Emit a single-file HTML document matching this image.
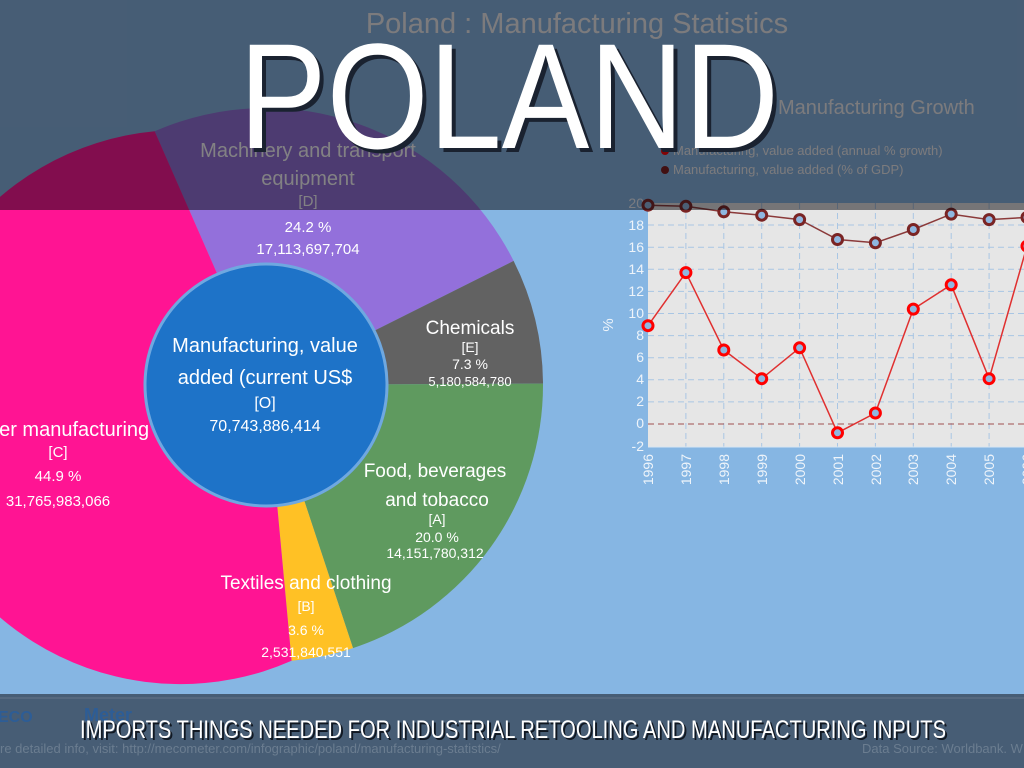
<!DOCTYPE html>
<html><head><meta charset="utf-8"><style>html,body{margin:0;padding:0;background:#86b6e3;}svg{display:block}</style></head>
<body>
<svg width="1024" height="768" viewBox="0 0 1024 768" xmlns="http://www.w3.org/2000/svg" font-family="Liberation Sans, DejaVu Sans, sans-serif">
<rect width="1024" height="768" fill="#86b6e3"/>
<text x="577" y="33" font-size="29" fill="#f2f2f2" text-anchor="middle">Poland : Manufacturing Statistics</text>
<!-- donut -->
<path d="M266,385 L154.7,131.3 A277,277 0 0 1 513.6,260.9 Z" fill="#9370db"/>
<path d="M266,385 L513.6,260.9 A277,277 0 0 1 543,383.6 Z" fill="#626262"/>
<path d="M266,385 L543,383.6 A277,277 0 0 1 353,648.1 Z" fill="#5f9a5f"/>
<path d="M266,385 L353,648.1 A277,277 0 0 1 291.6,660.8 Z" fill="#ffc125"/>
<path d="M266,385 L291.6,660.8 A277,277 0 1 1 154.7,131.3 Z" fill="#ff1493"/>
<circle cx="266" cy="385" r="121" fill="#1e73c8" stroke="#6fa8e0" stroke-width="3"/>
<g fill="#fff" text-anchor="middle">
<text x="308" y="157" font-size="20">Machinery and transport</text>
<text x="308" y="185" font-size="20">equipment</text>
<text x="308" y="206" font-size="15">[D]</text>
<text x="308" y="232" font-size="15">24.2 %</text>
<text x="308" y="254" font-size="15">17,113,697,704</text>
<text x="470" y="334" font-size="19">Chemicals</text>
<text x="470" y="352" font-size="14">[E]</text>
<text x="470" y="369" font-size="14">7.3 %</text>
<text x="470" y="386" font-size="13">5,180,584,780</text>
<text x="265" y="352" font-size="20">Manufacturing, value</text>
<text x="265" y="384" font-size="20">added (current US$</text>
<text x="265" y="408" font-size="16">[O]</text>
<text x="265" y="431" font-size="16">70,743,886,414</text>
<text x="58" y="436" font-size="20">Other manufacturing</text>
<text x="58" y="457" font-size="15">[C]</text>
<text x="58" y="481" font-size="15">44.9 %</text>
<text x="58" y="506" font-size="15">31,765,983,066</text>
<text x="435" y="477" font-size="19">Food, beverages</text>
<text x="437" y="506" font-size="19">and tobacco</text>
<text x="437" y="524" font-size="14">[A]</text>
<text x="437" y="542" font-size="14">20.0 %</text>
<text x="435" y="558" font-size="14">14,151,780,312</text>
<text x="306" y="589" font-size="19">Textiles and clothing</text>
<text x="306" y="611" font-size="14">[B]</text>
<text x="306" y="635" font-size="14">3.6 %</text>
<text x="306" y="657" font-size="14">2,531,840,551</text>
</g>
<!-- legend -->
<text x="778" y="114" font-size="20" fill="#f2f2f2">Manufacturing Growth</text>
<circle cx="665" cy="151" r="4" fill="#ff0000"/>
<text x="673" y="155" font-size="13" fill="#f2f2f2">Manufacturing, value added (annual % growth)</text>
<circle cx="665" cy="170" r="4" fill="#7a1a1a"/>
<text x="673" y="174" font-size="13" fill="#f2f2f2">Manufacturing, value added (% of GDP)</text>
<!-- line chart -->
<rect x="648" y="203" width="380" height="244" fill="#e6e6e6"/>
<g stroke="#a9c6e4" stroke-width="1" stroke-dasharray="6,4">
<line x1="648" x2="1024" y1="225" y2="225"/><line x1="648" x2="1024" y1="247.2" y2="247.2"/><line x1="648" x2="1024" y1="269.3" y2="269.3"/><line x1="648" x2="1024" y1="291.4" y2="291.4"/><line x1="648" x2="1024" y1="313.5" y2="313.5"/><line x1="648" x2="1024" y1="335.6" y2="335.6"/><line x1="648" x2="1024" y1="357.7" y2="357.7"/><line x1="648" x2="1024" y1="379.8" y2="379.8"/><line x1="648" x2="1024" y1="401.9" y2="401.9"/>
<line y1="203" y2="447" x1="685.9" x2="685.9"/><line y1="203" y2="447" x1="723.8" x2="723.8"/><line y1="203" y2="447" x1="761.7" x2="761.7"/><line y1="203" y2="447" x1="799.6" x2="799.6"/><line y1="203" y2="447" x1="837.5" x2="837.5"/><line y1="203" y2="447" x1="875.4" x2="875.4"/><line y1="203" y2="447" x1="913.3" x2="913.3"/><line y1="203" y2="447" x1="951.2" x2="951.2"/><line y1="203" y2="447" x1="989.1" x2="989.1"/>
</g>
<line x1="648" x2="1024" y1="424" y2="424" stroke="#a05050" stroke-width="1" stroke-dasharray="6,4"/>
<line x1="648" x2="1024" y1="447" y2="447" stroke="#d8e6f3" stroke-width="1"/>
<g fill="#eef4fa" font-size="14" text-anchor="end">
<text x="644" y="208">20</text><text x="644" y="230">18</text><text x="644" y="252">16</text><text x="644" y="274">14</text><text x="644" y="296">12</text><text x="644" y="318">10</text><text x="644" y="340">8</text><text x="644" y="362">6</text><text x="644" y="384">4</text><text x="644" y="406">2</text><text x="644" y="428">0</text><text x="644" y="451">-2</text>
</g>
<text transform="translate(613,325) rotate(-90)" font-size="15" fill="#eef4fa" text-anchor="middle">%</text>
<g fill="#eef4fa" font-size="14" text-anchor="end">
<text transform="translate(653,454) rotate(-90)">1996</text><text transform="translate(691,454) rotate(-90)">1997</text><text transform="translate(729,454) rotate(-90)">1998</text><text transform="translate(767,454) rotate(-90)">1999</text><text transform="translate(805,454) rotate(-90)">2000</text><text transform="translate(843,454) rotate(-90)">2001</text><text transform="translate(881,454) rotate(-90)">2002</text><text transform="translate(918,454) rotate(-90)">2003</text><text transform="translate(956,454) rotate(-90)">2004</text><text transform="translate(994,454) rotate(-90)">2005</text><text transform="translate(1032,454) rotate(-90)">2006</text>
</g>
<polyline fill="none" stroke="#8b3a3a" stroke-width="1.5" points="648,205.2 685.9,206.3 723.8,211.8 761.7,215.2 799.6,219.6 837.5,239.5 875.4,242.8 913.3,229.5 951.2,214.1 989.1,219.6 1027,217.4"/>
<polyline fill="none" stroke="#e03030" stroke-width="1.5" points="648,325.7 685.9,272.6 723.8,350 761.7,378.7 799.6,347.8 837.5,432.8 875.4,413 913.3,309.1 951.2,284.8 989.1,378.7 1027,246.1"/>
<g fill="#8fb7e0" stroke="#7a2424" stroke-width="3">
<circle cx="648" cy="205.2" r="5"/><circle cx="685.9" cy="206.3" r="5"/><circle cx="723.8" cy="211.8" r="5"/><circle cx="761.7" cy="215.2" r="5"/><circle cx="799.6" cy="219.6" r="5"/><circle cx="837.5" cy="239.5" r="5"/><circle cx="875.4" cy="242.8" r="5"/><circle cx="913.3" cy="229.5" r="5"/><circle cx="951.2" cy="214.1" r="5"/><circle cx="989.1" cy="219.6" r="5"/><circle cx="1027" cy="217.4" r="5"/>
</g>
<g fill="#8fb7e0" stroke="#ff0000" stroke-width="3">
<circle cx="648" cy="325.7" r="5"/><circle cx="685.9" cy="272.6" r="5"/><circle cx="723.8" cy="350" r="5"/><circle cx="761.7" cy="378.7" r="5"/><circle cx="799.6" cy="347.8" r="5"/><circle cx="837.5" cy="432.8" r="5"/><circle cx="875.4" cy="413" r="5"/><circle cx="913.3" cy="309.1" r="5"/><circle cx="951.2" cy="284.8" r="5"/><circle cx="989.1" cy="378.7" r="5"/><circle cx="1027" cy="246.1" r="5"/>
</g>
<!-- top overlay -->
<rect x="0" y="0" width="1024" height="210" fill="rgb(10,8,11)" fill-opacity="0.51"/>
<!-- footer -->
<rect x="0" y="694" width="1024" height="74" fill="#475d75"/>
<rect x="0" y="697" width="1024" height="2" fill="#56697f"/>
<text x="-2" y="722" font-size="16" font-weight="bold" fill="#2d5d96">ECO</text>
<text x="84" y="721" font-size="18" font-weight="bold" fill="#2d5d96">Meter</text>
<text x="0" y="753" font-size="13" fill="#6b7d90">re detailed info, visit: http://mecometer.com/infographic/poland/manufacturing-statistics/</text>
<text x="862" y="753" font-size="13" fill="#6b7d90">Data Source: Worldbank. W</text>
<!-- big overlay text -->
<text x="243" y="152" font-size="150" fill="#1a2230" textLength="540" lengthAdjust="spacingAndGlyphs">POLAND</text>
<text x="239" y="148" font-size="150" fill="#ffffff" textLength="540" lengthAdjust="spacingAndGlyphs">POLAND</text>
<text x="82" y="740" font-size="25" fill="#111822" textLength="866" lengthAdjust="spacingAndGlyphs">IMPORTS THINGS NEEDED FOR INDUSTRIAL RETOOLING AND MANUFACTURING INPUTS</text>
<text x="80" y="738" font-size="25" fill="#ffffff" textLength="866" lengthAdjust="spacingAndGlyphs">IMPORTS THINGS NEEDED FOR INDUSTRIAL RETOOLING AND MANUFACTURING INPUTS</text>
</svg>
</body></html>
